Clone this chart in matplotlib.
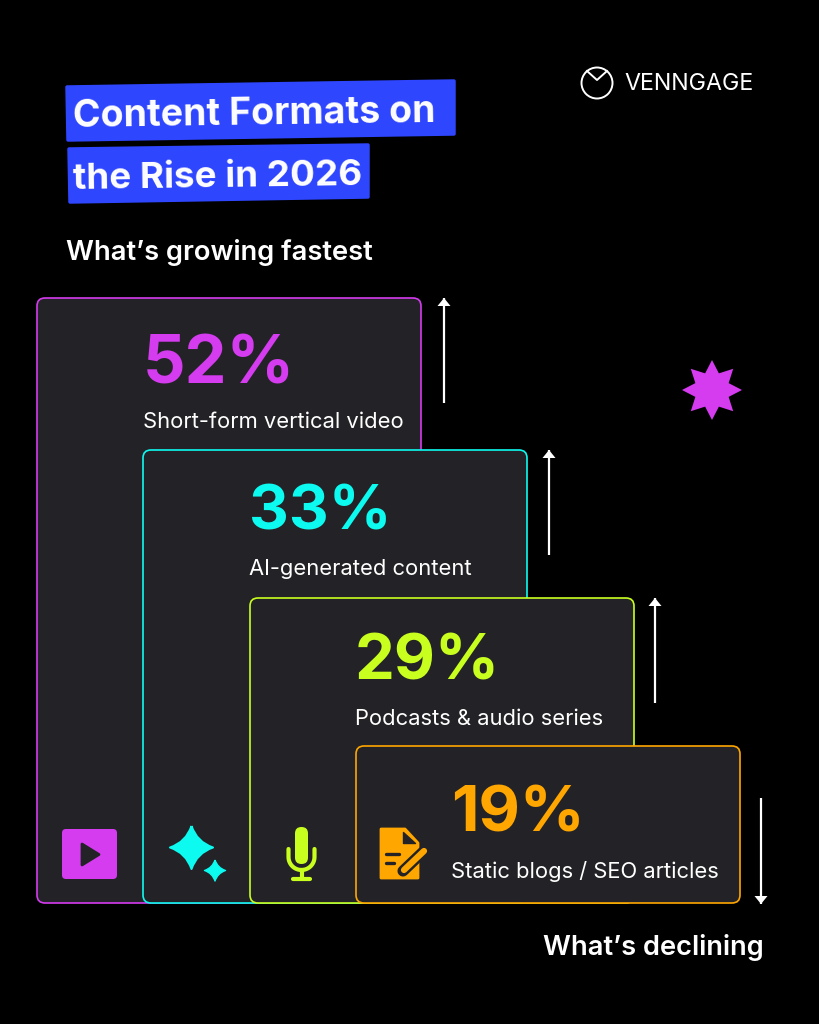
import numpy as np
import matplotlib
matplotlib.use("Agg")
import matplotlib.pyplot as plt
from matplotlib.patches import FancyBboxPatch, Polygon, Circle, PathPatch
from matplotlib.path import Path

percents = [52, 33, 29, 19]
formats = ["Short-form vertical video", "AI-generated content",
           "Podcasts & audio series", "Static blogs / SEO articles"]
colors = ["#d53cf0", "#0dfaf0", "#c8ff1e", "#ffa600"]

BG = "#000000"
CARD = "#232327"
BLUE = "#2f46ff"

plt.rcParams['font.family'] = ['Inter', 'DejaVu Sans']

# axes in pixels so layout lines up with the 819x1024 canvas
fig = plt.figure(figsize=(8.19, 10.24), dpi=100, facecolor=BG)
ax = fig.add_axes([0, 0, 1, 1])
ax.set_xlim(0, 819)
ax.set_ylim(1024, 0)
ax.axis("off")

# title bars, slightly tilted
ax.add_patch(Polygon([(67, 87), (454, 81), (454, 134), (68, 140)], closed=True,
                     fc=BLUE, ec=BLUE, lw=2.5, joinstyle="round"))
ax.add_patch(Polygon([(69, 149), (368, 145), (368, 197), (70, 202)], closed=True,
                     fc=BLUE, ec=BLUE, lw=2.5, joinstyle="round"))
ax.text(73, 127, "Content Formats on", color="white", fontsize=27, fontweight="bold",
        va="baseline", ha="left", rotation=0.8, rotation_mode="anchor")
ax.text(73, 189, "the Rise in 2026", color="white", fontsize=26.5, fontweight="bold",
        va="baseline", ha="left", rotation=0.8, rotation_mode="anchor")
ax.text(66, 260, "What\u2019s growing fastest", color="white", fontsize=19.7, fontweight="semibold",
        va="baseline", ha="left")

# logo
ax.add_patch(Circle((597, 83), 15.5, fc="none", ec="white", lw=1.4))
ax.plot([587, 597, 607], [71, 80, 71], color="white", lw=1.4)
ax.text(624, 90.5, "VENNGAGE", color="white", fontsize=16.7, va="baseline", ha="left")

# burst
angles = np.deg2rad(np.arange(16) * 22.5 - 90)
radii = np.where(np.arange(16) % 2 == 0, 30, 18)
ax.add_patch(Polygon(np.c_[712 + radii * np.cos(angles), 390 + radii * np.sin(angles)],
                     closed=True, fc=colors[0], ec="none"))

# stepped cards
lefts = [37, 143, 250, 356]
rights = [421, 527, 634, 740]
tops = [298, 450, 598, 746]
bottom = 903
pct_x = [143, 249, 355, 451]
pct_y = [384, 529, 679, 831]
pct_size = [48, 44.5, 45.5, 46]
label_x = [143, 249, 355, 451]
label_y = [428, 575, 725, 878]
for i, pct in enumerate(percents):
    ax.add_patch(FancyBboxPatch((lefts[i], tops[i]), rights[i] - lefts[i], bottom - tops[i],
                                boxstyle="round,pad=0,rounding_size=8", fc=CARD, ec=colors[i], lw=1.2))
    ax.text(pct_x[i], pct_y[i], f"{pct}%", color=colors[i], fontsize=pct_size[i], fontweight="bold",
            va="baseline", ha="left")
    ax.text(label_x[i], label_y[i], formats[i], color="white", fontsize=15.8,
            va="baseline", ha="left")

# trend arrows
arrow_x = [444, 549, 655, 761]
arrow_from = [403, 555, 703, 798]
arrow_to = [298, 450, 598, 904]
for x, y0, y1 in zip(arrow_x, arrow_from, arrow_to):
    ax.plot([x, x], [y0, y1], color="white", lw=1.6, solid_capstyle="butt")
    d = 8 if y1 < y0 else -8
    ax.add_patch(Polygon([(x, y1), (x - 6.5, y1 + d), (x + 6.5, y1 + d)], closed=True, fc="white", ec="none"))
ax.text(764, 955, "What\u2019s declining", color="white", fontsize=19.7, fontweight="semibold",
        va="baseline", ha="right")

# play icon
ax.add_patch(FancyBboxPatch((62, 829), 55, 50, boxstyle="round,pad=0,rounding_size=4", fc=colors[0], ec="none"))
ax.add_patch(Polygon([(82, 844), (99, 854.5), (82, 865)], closed=True, fc=CARD, ec=CARD, lw=2, joinstyle="round"))

# sparkles
def sparkle(cx, cy, rx, ry):
    k = 0.25
    verts = [(cx, cy - ry), (cx + k * rx, cy - k * ry), (cx + rx, cy),
             (cx + k * rx, cy + k * ry), (cx, cy + ry),
             (cx - k * rx, cy + k * ry), (cx - rx, cy),
             (cx - k * rx, cy - k * ry), (cx, cy - ry)]
    codes = [Path.MOVETO] + [Path.CURVE3] * 8
    return Path(verts, codes)
ax.add_patch(PathPatch(sparkle(191.5, 847.5, 21.5, 21.5), fc=colors[1], ec=colors[1], lw=1.5, joinstyle="round"))
ax.add_patch(PathPatch(sparkle(215, 870.5, 10.5, 10.5), fc=colors[1], ec=colors[1], lw=1, joinstyle="round"))

# mic icon
ax.add_patch(FancyBboxPatch((295, 827), 13, 37, boxstyle="round,pad=0,rounding_size=6.4", fc=colors[2], ec="none"))
t = np.linspace(0, np.pi, 30)
ax.plot(np.r_[288.5, 288.5 + 13 * (1 - np.cos(t)), 314.5], np.r_[849, 857 + 13 * np.sin(t), 849],
        color=colors[2], lw=3, solid_capstyle="round")
ax.plot([301.5, 301.5], [870, 878], color=colors[2], lw=3)
ax.plot([293, 310], [878.5, 878.5], color=colors[2], lw=3, solid_capstyle="round")

# document icon
ax.add_patch(Polygon([(381, 829), (405, 829), (418, 843), (418, 878), (381, 878)], closed=True,
                     fc=colors[3], ec=colors[3], lw=2, joinstyle="round"))
ax.add_patch(Polygon([(403, 832), (403, 843), (415, 843)], closed=True, fc=CARD, ec=CARD, lw=1, joinstyle="round"))
ax.plot([386, 399], [854, 854], color=CARD, lw=2.4, solid_capstyle="round")
ax.plot([386, 394], [863, 863], color=CARD, lw=2.4, solid_capstyle="round")
ax.plot([403, 425], [871, 850], color=CARD, lw=8, solid_capstyle="round")
ax.plot([404, 424], [870, 851], color=colors[3], lw=4.5, solid_capstyle="round")

fig.savefig("out.png", dpi=100, facecolor=BG)
